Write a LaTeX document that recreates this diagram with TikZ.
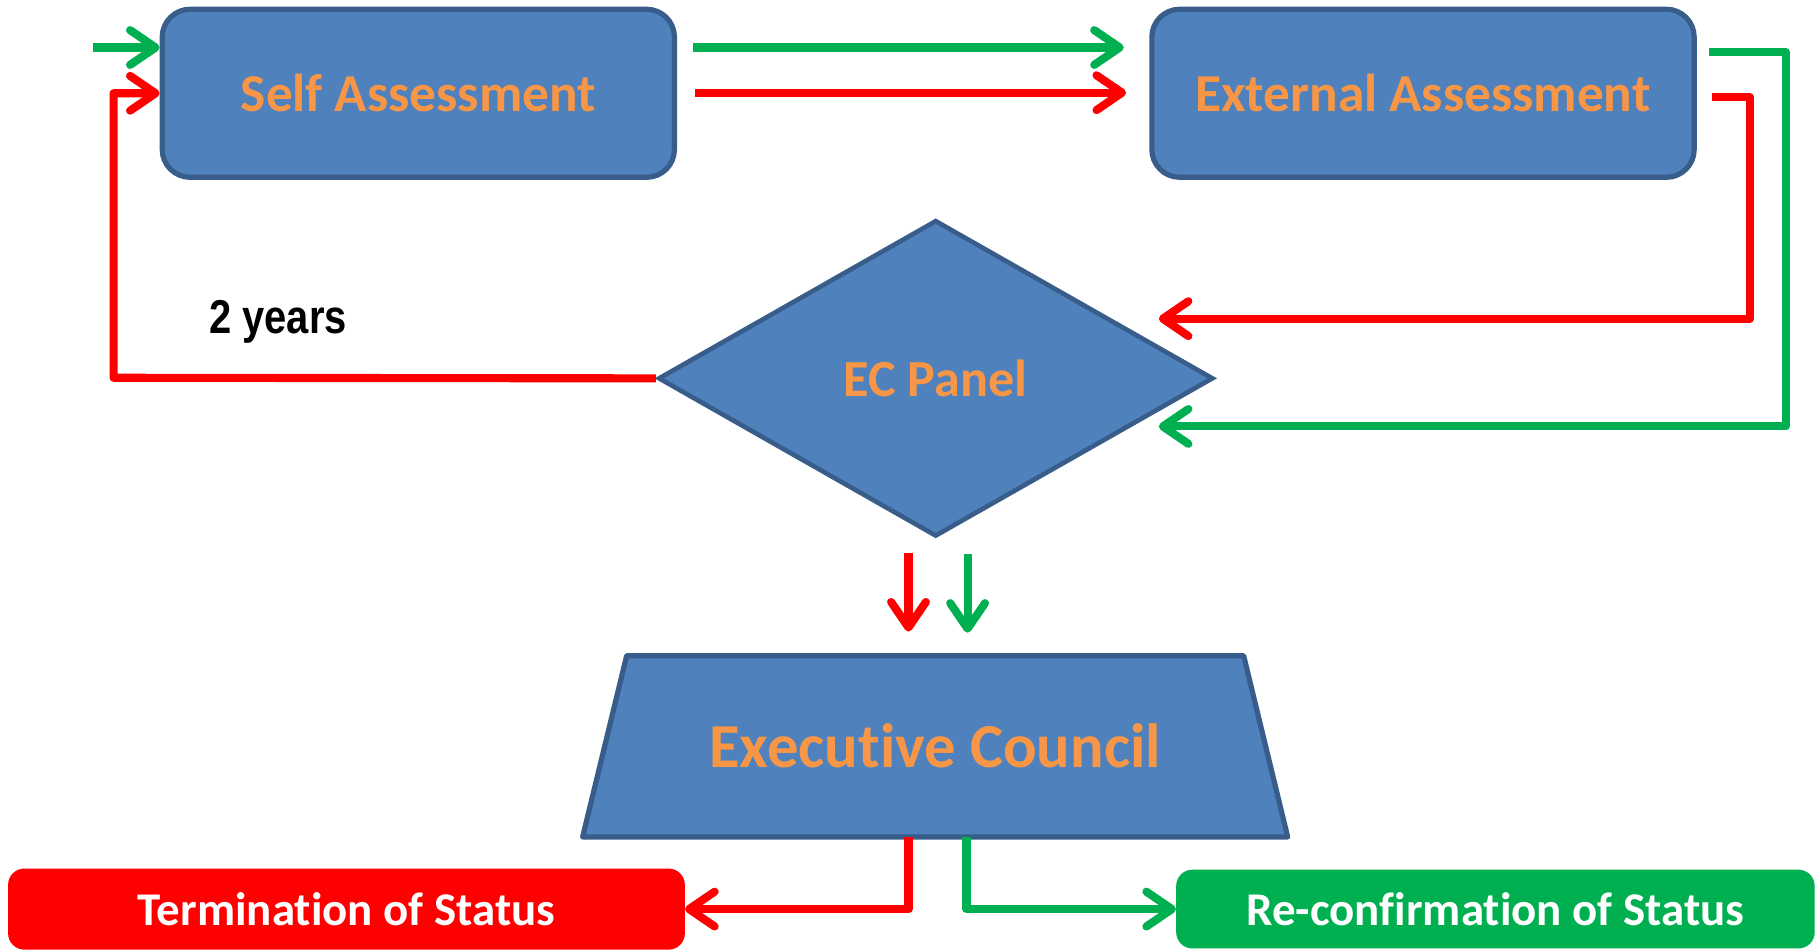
\documentclass[tikz,border=0pt]{standalone}
\usepackage{fontspec}
\setmainfont{Carlito}[Ligatures={NoCommon}]
\newfontfamily\arialfont{Liberation Sans}
\usetikzlibrary{arrows.meta,shapes.geometric,calc}
\definecolor{boxblue}{HTML}{4F81BD}
\definecolor{boxedge}{HTML}{385D8A}
\definecolor{txtorange}{HTML}{F79646}
\definecolor{cred}{HTML}{FF0000}
\definecolor{cgreen}{HTML}{00B050}
\begin{document}
\begin{tikzpicture}[x=1pt,y=-1pt,
  bluebox/.style={draw=boxedge,fill=boxblue,line width=4.5pt,rounded corners=24pt,
    text=txtorange,font=\fontsize{46}{50}\selectfont\bfseries,inner sep=0pt},
  decisionbox/.style={diamond,draw=boxedge,fill=boxblue,line width=4pt,inner sep=0pt,
    text=txtorange,font=\fontsize{45}{50}\selectfont\bfseries},
  resultbox/.style={rounded corners=14pt,inner sep=0pt,text=white,
    font=\fontsize{40.5}{44}\selectfont\bfseries},
  conn/.style={line width=7pt,line join=round,
    -{Straight Barb[length=22pt,width=30pt,round]}},
  rconn/.style={conn,draw=cred},
  gconn/.style={conn,draw=cgreen}]
\useasboundingbox (0,0) rectangle (1568,821);
\clip (0,0) rectangle (1568,821);

% nodes
\node[bluebox,minimum width=442pt,minimum height=145pt] (sa) at (361,80.5) {Self Assessment};
\node[bluebox,minimum width=468pt,minimum height=145pt] (ea) at (1228,80.5) {External Assessment};
\node[decisionbox,minimum width=479pt,minimum height=273pt] (ecp) at (807.5,326.5) {EC Panel};
\node[minimum width=608pt,minimum height=156pt,inner sep=0pt] (ec) at (807,644) {};
\path[draw=boxedge,fill=boxblue,line width=4.5pt,line join=round]
  ($(ec.north west)+(38,0)$) -- ($(ec.north east)+(-38,0)$) -- (ec.south east) -- (ec.south west) -- cycle;
\node[text=txtorange,font=\fontsize{54}{58}\selectfont\bfseries] at (ec.center) {Executive Council};
\node[resultbox,fill=cred,minimum width=584pt,minimum height=70pt] (term) at (299,784.5) {\raisebox{-2pt}{Termination of Status}};
\node[resultbox,fill=cgreen,minimum width=551pt,minimum height=68pt] (reconf) at (1290.5,784.5) {\raisebox{-2pt}{Re-confirmation of Status}};
\node[font=\arialfont\bfseries\fontsize{41}{44}\selectfont,xscale=0.84] (yrs) at (240,278) {2 years};

% free ends
\coordinate (gin) at (80,41);
\coordinate (rloop) at (98,326);
\coordinate (gtop) at (598,41);
\coordinate (rtop) at (600,80);
\coordinate (geo) at (1475,45);
\coordinate (gecorner) at (1541,45);
\coordinate (gend) at (1000,368);
\coordinate (reo) at (1477,84);
\coordinate (recorner) at (1510,84);
\coordinate (rend) at (1000,275);
\coordinate (rdown) at (784,477);
\coordinate (gdown) at (835,478);

% connectors
\draw[gconn] (gin) -- (gin -| sa.west);
\draw[rconn] (ecp.west) -- (rloop) |- (sa.west);
\draw[gconn,shorten >=22pt] (gtop) -- (gtop -| ea.west);
\draw[rconn,shorten >=20pt] (rtop) -- (rtop -| ea.west);
\draw[gconn] (geo) -- (gecorner) |- (gend);
\draw[rconn] (reo) -- (recorner) |- (rend);
\draw[rconn] (rdown) -- (784,545);
\draw[gconn] (gdown) -- (835,546);
\draw[rconn] (ec.south -| rdown) |- (term.east);
\draw[gconn] ($(ec.south -| gdown)+(-1,0)$) |- (reconf.west);
\end{tikzpicture}
\end{document}
